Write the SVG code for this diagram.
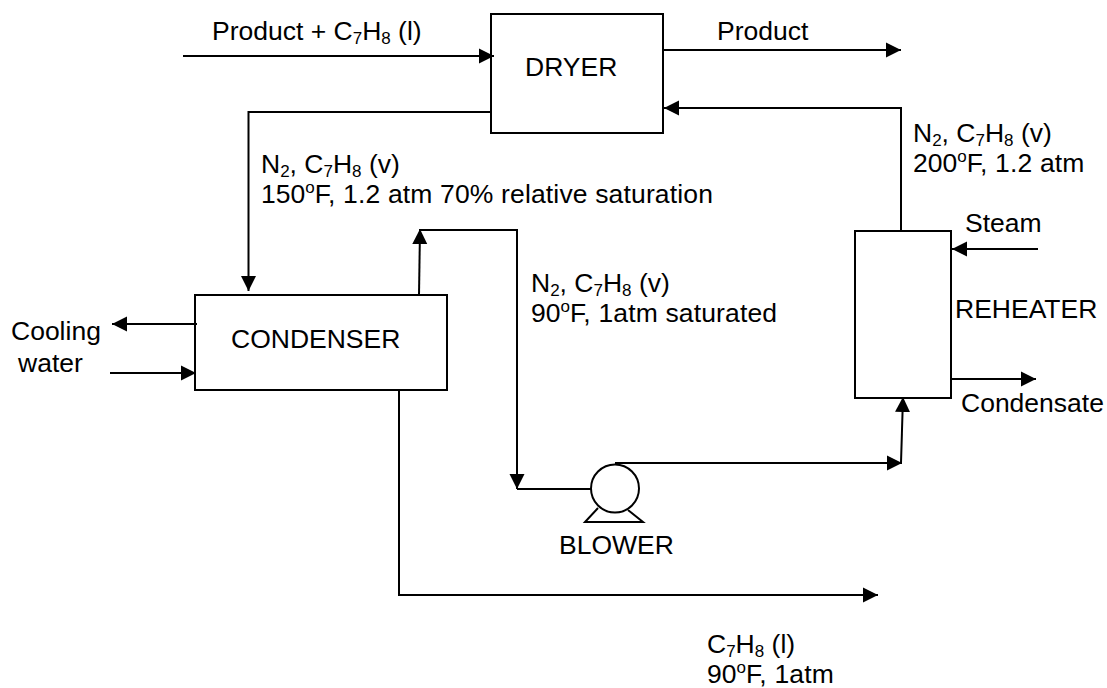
<svg xmlns="http://www.w3.org/2000/svg" width="1107" height="688" viewBox="0 0 1107 688">
<style>
text{font-family:"Liberation Sans",Arial,sans-serif;font-size:26.5px;fill:#000}
.s{font-size:17px}
.w{letter-spacing:.15px}
rect,circle{fill:#fff;stroke:#000;stroke-width:2}
path{fill:none;stroke:#000;stroke-width:2}
</style>
<defs><marker id="a" markerUnits="userSpaceOnUse" markerWidth="16" markerHeight="16" refX="15" refY="8" orient="auto"><path d="M0 0.5L15 8L0 15.5z" style="fill:#000;stroke:none"/></marker></defs>
<rect width="1107" height="688" style="fill:#fff;stroke:none"/>
<g id="dryer"><rect x="491" y="14" width="172" height="119"/><text x="525" y="76">DRYER</text></g>
<g id="condenser"><rect x="195" y="295" width="252" height="95"/><text x="231" y="348">CONDENSER</text></g>
<g id="reheater"><rect x="855" y="231" width="96" height="167"/><text x="955" y="318">REHEATER</text></g>
<g id="blower"><path d="M598 508L585 522H643L628 510"/><circle cx="615" cy="488.500" r="24"/><text x="559" y="554">BLOWER</text></g>
<g id="connectors">
<path d="M183 56H494" marker-end="url(#a)"/>
<path d="M663 50H901" marker-end="url(#a)"/>
<path d="M901 231V108H664" marker-end="url(#a)"/>
<path d="M491 112H248.500V291" marker-end="url(#a)"/>
<path d="M419 295L420 229" marker-end="url(#a)"/>
<path d="M420 230H517V489" marker-end="url(#a)"/>
<path d="M517 489H591"/>
<path d="M615 463H902" marker-end="url(#a)"/>
<path d="M901 463L903 397" marker-end="url(#a)"/>
<path d="M1038 249H952" marker-end="url(#a)"/>
<path d="M951 379H1036" marker-end="url(#a)"/>
<path d="M197 324H112" marker-end="url(#a)"/>
<path d="M110 373H196" marker-end="url(#a)"/>
<path d="M399 390V595H878" marker-end="url(#a)"/>
</g>
<g id="labels">
<text x="212" y="40">Product + C<tspan class="s" dy="4">7</tspan><tspan dy="-4">H</tspan><tspan class="s" dy="4">8</tspan><tspan dy="-4"> (l)</tspan></text>
<text x="717" y="40">Product</text>
<text x="261" y="173">N<tspan class="s" dy="4">2</tspan><tspan dy="-4">, C</tspan><tspan class="s" dy="4">7</tspan><tspan dy="-4">H</tspan><tspan class="s" dy="4">8</tspan><tspan dy="-4"> (v)</tspan></text>
<text x="261" y="203">150<tspan class="s" dy="-10">o</tspan><tspan class="w" dy="10">F, 1.2 atm 70% relative saturation</tspan></text>
<text x="531" y="292">N<tspan class="s" dy="4">2</tspan><tspan dy="-4">, C</tspan><tspan class="s" dy="4">7</tspan><tspan dy="-4">H</tspan><tspan class="s" dy="4">8</tspan><tspan dy="-4"> (v)</tspan></text>
<text x="531" y="322">90<tspan class="s" dy="-10">o</tspan><tspan class="w" dy="10">F, 1atm saturated</tspan></text>
<text x="913" y="142">N<tspan class="s" dy="4">2</tspan><tspan dy="-4">, C</tspan><tspan class="s" dy="4">7</tspan><tspan dy="-4">H</tspan><tspan class="s" dy="4">8</tspan><tspan dy="-4"> (v)</tspan></text>
<text x="913" y="172">200<tspan class="s" dy="-10">o</tspan><tspan class="w" dy="10">F, 1.2 atm</tspan></text>
<text x="965" y="232">Steam</text>
<text x="961" y="412">Condensate</text>
<text x="11" y="340">Cooling</text>
<text x="18" y="372">water</text>
<text x="707" y="653">C<tspan class="s" dy="4">7</tspan><tspan dy="-4">H</tspan><tspan class="s" dy="4">8</tspan><tspan dy="-4"> (l)</tspan></text>
<text x="707" y="683">90<tspan class="s" dy="-10">o</tspan><tspan class="w" dy="10">F, 1atm</tspan></text>
</g>
</svg>
